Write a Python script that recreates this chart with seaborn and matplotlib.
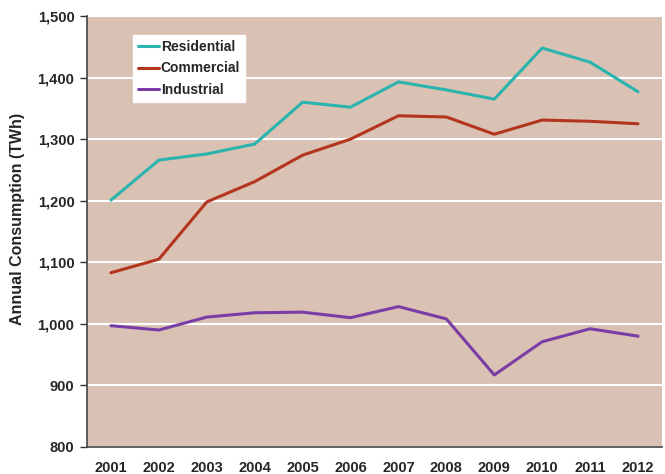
import pandas as pd
import matplotlib
matplotlib.use('Agg')
import matplotlib.pyplot as plt
import seaborn as sns
from matplotlib.ticker import FuncFormatter, FixedLocator

years = ['2001', '2002', '2003', '2004', '2005', '2006', '2007', '2008', '2009', '2010', '2011', '2012']
residential = [1201, 1266, 1276, 1292, 1360, 1352, 1393, 1380, 1365, 1448, 1425, 1377]
commercial = [1083, 1105, 1198, 1231, 1274, 1300, 1338, 1336, 1308, 1331, 1329, 1325]
industrial = [997, 990, 1011, 1018, 1019, 1010, 1028, 1008, 917, 971, 992, 980]

df = pd.DataFrame({'idx': list(range(len(years))) * 3,
                   'value': residential + commercial + industrial,
                   'sector': ['Residential'] * 12 + ['Commercial'] * 12 + ['Industrial'] * 12})

sns.set_style('white')
plt.rcParams['font.family'] = ['Liberation Sans', 'DejaVu Sans']

fig = plt.figure(figsize=(6.65, 4.74), dpi=100)
ax = fig.add_axes([0.1308, 0.057, 0.8647, 0.9092])
ax.set_facecolor('#D9C2B4')

pal = {'Residential': '#2BB3AE', 'Commercial': '#B3351E', 'Industrial': '#7A3DA6'}
sns.lineplot(data=df, x='idx', y='value', hue='sector', palette=pal, linewidth=2.2, ax=ax)

ax.set_xlim(-0.5, 11.5)
ax.set_ylim(800, 1500)
ax.set_yticks(range(800, 1501, 100))
ax.yaxis.set_major_formatter(FuncFormatter(lambda v, p: f'{int(v):,}'))
ax.yaxis.grid(True, color='white', linewidth=1.5)
ax.set_axisbelow(True)

ax.set_xticks(range(12))
ax.set_xticklabels(years)
ax.xaxis.set_minor_locator(FixedLocator([i + 0.5 for i in range(-1, 12)]))
ax.tick_params(axis='x', which='major', length=0, pad=10)
ax.tick_params(axis='x', which='minor', length=5, direction='inout', width=1, color='#333333')
ax.tick_params(axis='y', which='major', length=5, direction='out', width=1, color='#333333', pad=4, left=True)
for lab in ax.get_xticklabels() + ax.get_yticklabels():
    lab.set_fontweight('bold')
    lab.set_fontsize(10.5)

ax.set_xlabel('')
ax.set_ylabel('Annual Consumption (TWh)', fontsize=11.5, fontweight='bold')
ax.yaxis.set_label_coords(-0.107, 0.529)

for s in ['top', 'right']:
    ax.spines[s].set_visible(False)
for s in ['left', 'bottom']:
    ax.spines[s].set_color('#444444')
    ax.spines[s].set_linewidth(1.2)

leg = ax.legend(loc='upper left', bbox_to_anchor=(0.08, 0.956), borderaxespad=0, frameon=True, fancybox=False,
                handlelength=1.5, handletextpad=0.15, borderpad=0.35, labelspacing=0.55,
                prop={'weight': 'bold', 'size': 10})
leg.get_frame().set_facecolor('white')
leg.get_frame().set_edgecolor('white')
leg.get_frame().set_alpha(1)

fig.savefig('out.png', dpi=100)
